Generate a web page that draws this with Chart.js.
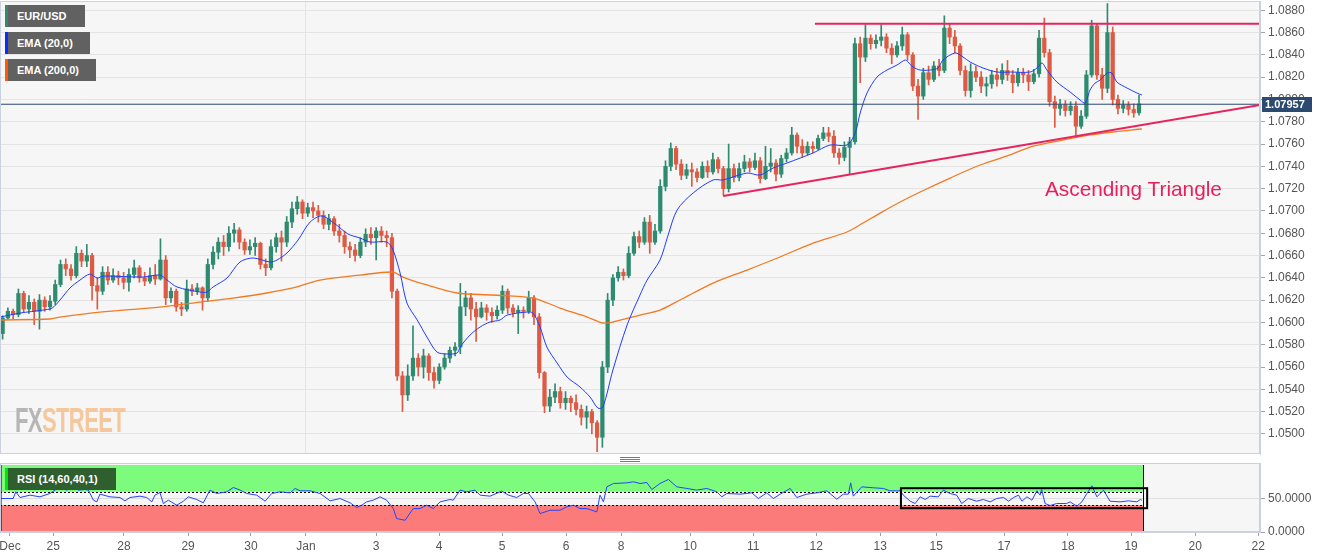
<!DOCTYPE html>
<html>
<head>
<meta charset="utf-8">
<script src="https://cdn.jsdelivr.net/npm/chart.js@4.4.1/dist/chart.umd.min.js"></script>
<style>
html,body{margin:0;padding:0;background:#fff;}
#wrap{position:relative;width:1331px;height:558px;overflow:hidden;font-family:"Liberation Sans",Arial,sans-serif;}
#main{position:absolute;left:0;top:0;}
#rsi{position:absolute;left:0;top:456px;}
.tag{position:absolute;left:5px;height:22px;background:#616161;color:#fff;font-weight:bold;font-size:11px;line-height:22px;padding-left:9px;box-sizing:border-box;border-left:3px solid;white-space:nowrap;}
.grip{position:absolute;left:620px;width:20px;height:1px;background:#7a7a7a;}
</style>
</head>
<body>
<div id="wrap">
<canvas id="main" width="1331" height="455"></canvas>
<canvas id="rsi" width="1331" height="102"></canvas>
<div class="tag" style="top:5px;width:80px;border-left-color:#2f8a6e">EUR/USD</div>
<div class="tag" style="top:32px;width:85px;border-left-color:#0a2cff">EMA (20,0)</div>
<div class="tag" style="top:59px;width:91px;border-left-color:#ff5a00">EMA (200,0)</div>
<div class="tag" style="top:468px;width:111px;background:#2f5e2f;border-left-color:#00e600">RSI (14,60,40,1)</div>
<div style="position:absolute;left:15px;top:400px;font-family:'Liberation Sans Narrow','Liberation Sans',Arial,sans-serif;font-weight:bold;font-size:35px;letter-spacing:-1px;transform:scaleX(0.63);transform-origin:0 0;white-space:nowrap;"><span style="color:#b6b6b6">FX</span><span style="color:#f5c79d">STREET</span></div>
<div style="position:absolute;left:1045px;top:179px;font-size:20.8px;line-height:20px;color:#e91e5d;white-space:nowrap;">Ascending Triangle</div>
<div class="grip" style="top:457px"></div>
<div class="grip" style="top:459px"></div>
<div class="grip" style="top:461px"></div>
</div>
<script>
// ---------- DATA ----------
const firstOpen = 1.0590;
const candleStepHours = 2;
const closes = [
1.0604,1.0610,1.0607,1.0626,1.0612,1.0618,1.0610,1.0620,1.0614,1.0619,
1.0634,1.0652,1.0648,1.0642,1.0662,1.0655,1.0660,1.0633,1.0628,1.0645,
1.0638,1.0642,1.0640,1.0636,1.0643,1.0649,1.0640,1.0637,1.0642,1.0639,
1.0656,1.0622,1.0628,1.0614,1.0612,1.0630,1.0628,1.0631,1.0622,1.0652,
1.0663,1.0672,1.0668,1.0680,1.0683,1.0672,1.0665,1.0668,1.0671,1.0652,
1.0649,1.0668,1.0676,1.0672,1.0690,1.0702,1.0708,1.0698,1.0703,1.0700,
1.0696,1.0688,1.0693,1.0682,1.0678,1.0668,1.0665,1.0660,1.0672,1.0679,
1.0676,1.0682,1.0678,1.0676,1.0628,1.0552,1.0535,1.0552,1.0568,1.0560,
1.0570,1.0555,1.0548,1.0560,1.0568,1.0575,1.0578,1.0614,1.0622,1.0612,
1.0605,1.0613,1.0609,1.0606,1.0611,1.0628,1.0613,1.0609,1.0611,1.0610,
1.0622,1.0605,1.0555,1.0525,1.0533,1.0538,1.0528,1.0532,1.0528,1.0522,
1.0515,1.0520,1.0510,1.0497,1.0560,1.0620,1.0640,1.0645,1.0642,1.0662,
1.0677,1.0672,1.0690,1.0672,1.0682,1.0722,1.0740,1.0756,1.0742,1.0732,
1.0737,1.0735,1.0730,1.0740,1.0735,1.0746,1.0738,1.0720,1.0738,1.0730,
1.0738,1.0744,1.0739,1.0745,1.0729,1.0740,1.0743,1.0733,1.0747,1.0752,
1.0768,1.0758,1.0752,1.0758,1.0756,1.0765,1.0770,1.0767,1.0752,1.0748,
1.0757,1.0762,1.0850,1.0838,1.0855,1.0850,1.0853,1.0856,1.0846,1.0840,
1.0848,1.0858,1.0840,1.0812,1.0803,1.0824,1.0818,1.0830,1.0826,1.0864,
1.0856,1.0848,1.0826,1.0808,1.0825,1.0820,1.0812,1.0814,1.0822,1.0818,
1.0826,1.0822,1.0815,1.0824,1.0822,1.0816,1.0823,1.0855,1.0842,1.0798,
1.0792,1.0795,1.0790,1.0794,1.0776,1.0785,1.0822,1.0866,1.0822,1.0810,
1.0860,1.0800,1.0792,1.0795,1.0791,1.0788,1.0796];
const highs = [
1.0606,1.0613,1.0612,1.0630,1.0628,1.0624,1.0621,1.0625,1.0623,1.0624,
1.0638,1.0656,1.0657,1.0652,1.0668,1.0665,1.0670,1.0662,1.0640,1.0650,
1.0650,1.0648,1.0646,1.0645,1.0648,1.0656,1.0651,1.0645,1.0649,1.0652,
1.0675,1.0660,1.0631,1.0630,1.0618,1.0638,1.0634,1.0635,1.0632,1.0657,
1.0668,1.0676,1.0678,1.0686,1.0689,1.0685,1.0675,1.0674,1.0676,1.0672,
1.0657,1.0674,1.0680,1.0682,1.0695,1.0708,1.0713,1.0710,1.0707,1.0708,
1.0705,1.0700,1.0697,1.0695,1.0688,1.0682,1.0672,1.0670,1.0676,1.0684,
1.0685,1.0685,1.0686,1.0682,1.0680,1.0630,1.0556,1.0562,1.0597,1.0572,
1.0576,1.0572,1.0560,1.0563,1.0572,1.0578,1.0582,1.0635,1.0628,1.0626,
1.0618,1.0618,1.0616,1.0613,1.0615,1.0633,1.0630,1.0616,1.0615,1.0614,
1.0628,1.0624,1.0608,1.0556,1.0540,1.0545,1.0542,1.0538,1.0534,1.0535,
1.0526,1.0525,1.0522,1.0512,1.0565,1.0626,1.0643,1.0650,1.0648,1.0668,
1.0681,1.0682,1.0694,1.0696,1.0688,1.0728,1.0745,1.0761,1.0758,1.0746,
1.0742,1.0743,1.0738,1.0744,1.0745,1.0752,1.0748,1.0740,1.0760,1.0742,
1.0743,1.0750,1.0747,1.0752,1.0748,1.0758,1.0756,1.0746,1.0750,1.0756,
1.0775,1.0770,1.0764,1.0762,1.0762,1.0768,1.0775,1.0775,1.0772,1.0756,
1.0762,1.0766,1.0855,1.0856,1.0867,1.0858,1.0858,1.0867,1.0859,1.0850,
1.0852,1.0865,1.0860,1.0842,1.0818,1.0828,1.0830,1.0834,1.0836,1.0875,
1.0868,1.0862,1.0850,1.0830,1.0832,1.0830,1.0825,1.0820,1.0826,1.0828,
1.0832,1.0835,1.0826,1.0828,1.0828,1.0826,1.0827,1.0862,1.0873,1.0845,
1.0803,1.0800,1.0799,1.0798,1.0798,1.0790,1.0826,1.0871,1.0868,1.0828,
1.0886,1.0865,1.0804,1.0799,1.0798,1.0796,1.0804];
const lows = [
1.0585,1.0603,1.0603,1.0605,1.0609,1.0608,1.0598,1.0594,1.0610,1.0611,
1.0616,1.0632,1.0642,1.0638,1.0640,1.0650,1.0650,1.0620,1.0612,1.0625,
1.0634,1.0636,1.0634,1.0630,1.0628,1.0640,1.0636,1.0633,1.0635,1.0634,
1.0638,1.0616,1.0618,1.0610,1.0606,1.0610,1.0624,1.0625,1.0611,1.0619,
1.0648,1.0657,1.0660,1.0664,1.0672,1.0666,1.0661,1.0661,1.0660,1.0648,
1.0642,1.0647,1.0663,1.0655,1.0668,1.0685,1.0697,1.0693,1.0695,1.0694,
1.0690,1.0684,1.0683,1.0678,1.0672,1.0662,1.0658,1.0655,1.0658,1.0668,
1.0670,1.0656,1.0672,1.0668,1.0622,1.0548,1.0520,1.0530,1.0548,1.0552,
1.0550,1.0548,1.0541,1.0545,1.0558,1.0564,1.0570,1.0572,1.0606,1.0602,
1.0583,1.0604,1.0602,1.0600,1.0603,1.0608,1.0608,1.0605,1.0590,1.0604,
1.0608,1.0598,1.0550,1.0519,1.0520,1.0528,1.0523,1.0522,1.0520,1.0517,
1.0508,1.0505,1.0500,1.0484,1.0488,1.0555,1.0615,1.0637,1.0638,1.0640,
1.0660,1.0667,1.0670,1.0662,1.0670,1.0680,1.0718,1.0736,1.0737,1.0728,
1.0729,1.0722,1.0726,1.0729,1.0730,1.0733,1.0734,1.0714,1.0717,1.0726,
1.0727,1.0735,1.0735,1.0737,1.0725,1.0728,1.0735,1.0727,1.0730,1.0744,
1.0750,1.0752,1.0748,1.0750,1.0752,1.0755,1.0763,1.0762,1.0748,1.0742,
1.0745,1.0733,1.0760,1.0815,1.0834,1.0845,1.0846,1.0848,1.0842,1.0832,
1.0838,1.0844,1.0835,1.0808,1.0782,1.0800,1.0813,1.0816,1.0821,1.0824,
1.0850,1.0842,1.0822,1.0803,1.0802,1.0816,1.0806,1.0803,1.0810,1.0812,
1.0814,1.0817,1.0806,1.0812,1.0815,1.0808,1.0814,1.0820,1.0838,1.0794,
1.0775,1.0786,1.0785,1.0786,1.0766,1.0774,1.0783,1.0820,1.0818,1.0800,
1.0806,1.0795,1.0787,1.0788,1.0786,1.0784,1.0786];
const lastPrice = 1.07957;

const ema20Hours = [0,7.6,16.3,19.8,22.8,26.6,30.4,34.2,36.9,39.2,54.4,60.8,63.5,67.3,76,78.7,81,86.3,91.2,96.2,102.7,105.3,109.1,113.3,117.9,122.4,127.4,132.3,136.9,140.7,147.1,149.4,152.1,154.7,158.6,162.3,166.1,169.9,173.8,174.9,178.7,182.5,186.3,190.1,192.8,200.3,202.6,205.3,207.9,211.8,215.6,220.5,224.3,227.3,229.2,233,238.4,243.3,246,250.9,254,257.4,263.5,271.1,274.9,284,288.9,293.9,299.2,309.1,315.5,322,325.1,327,329.6,333.4,337.2,341,344.1,345.2,347.1,349.8,353.6,356.6,358.5,363.1,366.1,368.8,373.7,379,384,391.6,394.2,396.1,398,401.8,406.8,410.6,412.5,414.4,416.3,418.2,420.9,422.7,424.6,428.4,432.2,434.1];
const ema20Values = [1.06048,1.06084,1.06111,1.06129,1.06201,1.06309,1.06380,1.06434,1.06398,1.06416,1.06407,1.06425,1.06380,1.06318,1.06273,1.06273,1.06318,1.06398,1.06542,1.06578,1.06542,1.06560,1.06623,1.06739,1.06901,1.06955,1.06883,1.06793,1.06757,1.06721,1.06721,1.06650,1.06443,1.06174,1.06022,1.05869,1.05735,1.05717,1.05726,1.05779,1.05887,1.05959,1.06004,1.06022,1.06066,1.06093,1.06084,1.05959,1.05779,1.05636,1.05510,1.05421,1.05331,1.05232,1.05241,1.05573,1.05977,1.06246,1.06380,1.06560,1.06784,1.07008,1.07161,1.07278,1.07278,1.07340,1.07322,1.07385,1.07430,1.07520,1.07591,1.07591,1.07699,1.07878,1.08058,1.08201,1.08264,1.08309,1.08354,1.08336,1.08291,1.08264,1.08264,1.08282,1.08354,1.08417,1.08381,1.08336,1.08282,1.08246,1.08246,1.08246,1.08282,1.08327,1.08264,1.08156,1.08067,1.07995,1.07968,1.08085,1.08147,1.08174,1.08237,1.08237,1.08156,1.08103,1.08058,1.08040];

const ema200Hours = [0,19,22.8,38,60.8,76,88.6,101.5,111.4,121.7,136.9,149.4,153.2,162.3,173.8,187.4,202.6,212.9,223.2,229.2,233,243.3,250.9,258.5,271.1,284,296.5,309.1,322,328.1,334.6,342.2,349.8,361.2,372.6,384,391.6,404.1,411.7,423.1,434.1];
const ema200Values = [1.06022,1.06031,1.06048,1.06093,1.06138,1.06183,1.06219,1.06264,1.06309,1.06380,1.06425,1.06452,1.06407,1.06336,1.06264,1.06246,1.06219,1.06129,1.06048,1.05995,1.06004,1.06066,1.06111,1.06201,1.06353,1.06470,1.06587,1.06712,1.06811,1.06892,1.06981,1.07080,1.07170,1.07295,1.07412,1.07502,1.07573,1.07636,1.07672,1.07708,1.07735];

const rsiHours = [0,5,6,7.6,11.4,15.2,19,20.9,22.8,25.3,
28.5,29.8,32.3,33.6,35.5,36.8,38,41.8,45.6,47.5,
49.4,53.2,55.8,57.7,58.9,60.8,62.1,64,67.2,69.7,
71.6,74.8,77.3,79.8,82.4,86.2,88.7,91.3,93.8,97.6,
100.8,103.3,106.5,110.3,112.2,114.1,117.9,121.7,125.5,129.3,
133.1,135.6,137.5,139.4,141.9,144.5,147,149.5,150.8,154,
157.1,159.7,162.2,164.7,167.3,171.1,172.3,174.9,177.4,180.6,
182.5,186.3,190.7,193.3,196.4,199,200.9,203.4,205.3,209.1,
212.9,215.4,218,220.5,223.1,226.9,228.1,229.4,230.7,233.2,
238.3,240.8,243.3,245.9,247.8,250.9,254.1,257.3,261.1,264.9,
268.7,272.5,274.4,276.3,281.4,285.8,288.3,291.5,294,296.6,
300.4,302.9,306.7,310.5,314.3,318.1,320.6,322.5,323.4,324.4,
327.6,332,335.8,338.3,342.2,343.4,346,347.9,349.8,351.7,
353.6,356.7,358.6,361.2,363.7,365.6,368.1,371.3,373.8,376.4,
378.9,381.5,383.4,385.3,387.2,388.5,390.4,392.3,394.2,395.4,
396,397.3,399.2,401.7,405.5,406.8,409.4,411.3,413.2,415.1,
417,419.5,422,425.8,429,432.2,433.5,434.1];
const rsiValues = [50,50,60,51.5,55,52.5,57.5,62.5,67.4,62.5,
67.4,62.5,63.4,62.5,47.5,45,56.5,52.5,51.5,46.5,
51.5,53.5,51.5,45,55,59,42.5,47.5,40,46,
52.5,48.5,43.5,62.5,57.5,60,66.4,62.5,57.5,55,
46,57.5,60,58.5,65,61.5,61.5,57.5,46.5,50,
43.5,36.5,40,45,47.5,52.5,47.5,35,20,17.5,
35,35,40,35,45,48.5,47.5,62.5,60,62.5,
55,53.5,61,55,51.5,57.5,57.5,45,27.5,32.5,
32.5,37.5,40,35,35,30,55,45,67.4,72.4,
73.4,74.9,72.4,73.9,63.4,72.4,78.4,67.4,65,62.5,
65,60,52.5,57.5,56.5,58.5,50,58.5,50,56.5,
65,51.5,56.5,58.5,61.5,49,56.5,56.5,73.4,53.5,
67.4,66,65,61.5,61.5,55,46,42.5,52.5,48.5,
53.5,52.5,62.5,57.5,55,42.5,50,46,48.5,45,
50,51.5,46,51.5,55,46,52.5,47.5,61.5,55,
63.4,42.5,39.5,42.5,42.5,45,38.5,45,57.5,69,
52.5,62.5,46,45,46.5,45,48.5,47.5];

const triangleTopHours = [309.8, 479];
const triangleTopValues = [1.0868, 1.0868];
const triangleBaseHours = [274.9, 479];
const triangleBaseValues = [1.07134, 1.07950];

const dayTickHours = [3.8,20.2,47.1,71.5,95.4,116.3,143,166.9,190.9,215.2,236.1,262.4,286.3,310.3,334.6,355.9,381.7,406,430,454.4,478.3];
const dayTickLabels = ['Dec','25','28','29','30','Jan','3','4','5','6','8','10','11','12','13','15','17','18','19','20','22'];
const monthStartHour = 116.3;
const priceTicks = [1.0500,1.0520,1.0540,1.0560,1.0580,1.0600,1.0620,1.0640,1.0660,1.0680,1.0700,1.0720,1.0740,1.0760,1.0780,1.0800,1.0820,1.0840,1.0860,1.0880];
const rsiTicks = [0, 50];
const rsiUpper = 60, rsiLower = 40;
const rsiBandEndHour = 434.6;
const rsiBoxHours = [342.5, 436.1];
const rsiBoxValues = [35.5, 65.4];

// ---------- STYLE ----------
const AXIS_HOURS = 479;
const GREEN = '#2f8b70', RED = '#dd5b45';
Chart.defaults.font.family = '"Liberation Sans", Arial, sans-serif';
Chart.defaults.font.size = 12;
Chart.defaults.color = '#555';

const opens = closes.map((c, i) => i === 0 ? firstOpen : closes[i - 1]);
const candleHours = closes.map((c, i) => 1 + candleStepHours * i);
const candleColors = closes.map((c, i) => c >= opens[i] ? GREEN : RED);
const zip = (xs, ys) => xs.map((x, i) => ({x: x, y: ys[i]}));

const panelPlugin = {
  id: 'panel',
  beforeDraw(chart) {
    const {ctx, chartArea: a} = chart;
    ctx.save();
    ctx.fillStyle = '#ffffff';
    ctx.fillRect(0, 0, chart.width, chart.height);
    ctx.fillStyle = '#f6f6f6';
    ctx.fillRect(a.left, a.top, a.right - a.left, a.bottom - a.top);
    ctx.restore();
  },
  afterDraw(chart) {
    const {ctx, chartArea: a} = chart;
    ctx.save();
    ctx.strokeStyle = '#c9d1e3';
    ctx.lineWidth = 1;
    ctx.strokeRect(a.left + 0.5, a.top + 0.5, a.right - a.left - 1, a.bottom - a.top - 1);
    ctx.restore();
  }
};

const priceTagPlugin = {
  id: 'priceTag',
  afterDraw(chart) {
    const {ctx, chartArea: a} = chart;
    const y = Math.round(chart.scales.y.getPixelForValue(lastPrice));
    ctx.save();
    ctx.fillStyle = '#2c4a6f';
    ctx.fillRect(a.right + 2, y - 7, 50, 15);
    ctx.fillStyle = '#ffffff';
    ctx.font = 'bold 11px "Liberation Sans", Arial, sans-serif';
    ctx.textBaseline = 'middle';
    ctx.textAlign = 'left';
    ctx.fillText(lastPrice.toFixed(5), a.right + 5, y + 1);
    ctx.restore();
  }
};

const rsiBandsPlugin = {
  id: 'rsiBands',
  beforeDatasetsDraw(chart) {
    const {ctx} = chart;
    const xs = chart.scales.x, ys = chart.scales.y;
    const x0 = xs.getPixelForValue(0), x1 = xs.getPixelForValue(rsiBandEndHour);
    const y100 = ys.getPixelForValue(100), yU = ys.getPixelForValue(rsiUpper);
    const yL = ys.getPixelForValue(rsiLower), y0 = ys.getPixelForValue(0);
    ctx.save();
    ctx.fillStyle = '#7dfb7d';
    ctx.fillRect(x0, y100, x1 - x0, yU - y100);
    ctx.fillStyle = '#fb7b7b';
    ctx.fillRect(x0, yL, x1 - x0, y0 - yL);
    ctx.strokeStyle = '#000';
    ctx.lineWidth = 1;
    ctx.setLineDash([2, 2]);
    ctx.beginPath();
    ctx.moveTo(x0, Math.round(yU) + 0.5); ctx.lineTo(x1, Math.round(yU) + 0.5);
    ctx.moveTo(x0, Math.round(yL) + 0.5); ctx.lineTo(x1, Math.round(yL) + 0.5);
    ctx.stroke();
    ctx.setLineDash([]);
    ctx.beginPath();
    ctx.moveTo(x0 + 1, y100); ctx.lineTo(x0 + 1, y0);
    ctx.moveTo(Math.round(x1) + 0.5, y100); ctx.lineTo(Math.round(x1) + 0.5, y0);
    ctx.stroke();
    ctx.restore();
  },
  afterDatasetsDraw(chart) {
    const {ctx} = chart;
    const xs = chart.scales.x, ys = chart.scales.y;
    const bx0 = xs.getPixelForValue(rsiBoxHours[0]), bx1 = xs.getPixelForValue(rsiBoxHours[1]);
    const by0 = ys.getPixelForValue(rsiBoxValues[1]), by1 = ys.getPixelForValue(rsiBoxValues[0]);
    ctx.save();
    ctx.strokeStyle = '#000';
    ctx.lineWidth = 2;
    ctx.strokeRect(bx0, by0, bx1 - bx0, by1 - by0);
    ctx.restore();
  }
};

// ---------- MAIN PRICE CHART ----------
new Chart(document.getElementById('main'), {
  type: 'bar',
  data: {
    datasets: [
      {type: 'line', data: zip(triangleTopHours, triangleTopValues), borderColor: '#e8245e', borderWidth: 2, pointRadius: 0, order: 0},
      {type: 'line', data: zip(triangleBaseHours, triangleBaseValues), borderColor: '#e8245e', borderWidth: 2, pointRadius: 0, order: 0},
      {type: 'line', data: [{x: 0, y: lastPrice}, {x: AXIS_HOURS, y: lastPrice}], borderColor: '#2b4870', borderWidth: 1, pointRadius: 0, order: 1},
      {type: 'line', data: zip(ema20Hours, ema20Values), borderColor: '#1f3dff', borderWidth: 1, pointRadius: 0, tension: 0.3, order: 2},
      {type: 'line', data: zip(ema200Hours, ema200Values), borderColor: '#f27a22', borderWidth: 1.3, pointRadius: 0, tension: 0.3, order: 2},
      {type: 'bar', data: candleHours.map((h, i) => ({x: h, y: [opens[i], closes[i]]})), backgroundColor: candleColors, borderWidth: 0, barThickness: 3.6, minBarLength: 1, grouped: false, order: 3},
      {type: 'bar', data: candleHours.map((h, i) => ({x: h, y: [lows[i], highs[i]]})), backgroundColor: candleColors, borderWidth: 0, barThickness: 1, grouped: false, order: 4}
    ]
  },
  options: {
    responsive: false,
    animation: false,
    events: [],
    layout: {padding: {top: 1, bottom: 1, left: 0, right: 0}},
    plugins: {legend: {display: false}, tooltip: {enabled: false}},
    scales: {
      x: {
        type: 'linear', min: 0, max: AXIS_HOURS, offset: false,
        ticks: {display: false},
        grid: {offset: false, drawTicks: false, color: '#e4e4e4'},
        border: {display: false},
        afterBuildTicks: s => { s.ticks = [{value: monthStartHour}]; },
        afterFit: s => { s.height = 0; s.paddingLeft = 0; s.paddingRight = 0; }
      },
      y: {
        position: 'right', min: 1.0482, max: 1.08883,
        ticks: {callback: v => Number(v).toFixed(4), color: '#555', padding: 3, font: {size: 12}},
        grid: {color: '#e4e4e4', tickColor: '#9aa3b5', tickLength: 5},
        border: {color: '#c9d1e3'},
        afterBuildTicks: s => { s.ticks = priceTicks.map(v => ({value: v})); },
        afterFit: s => { s.width = 71; s.paddingTop = 0; s.paddingBottom = 0; }
      }
    }
  },
  plugins: [panelPlugin, priceTagPlugin]
});

// ---------- RSI CHART ----------
new Chart(document.getElementById('rsi'), {
  type: 'line',
  data: {
    datasets: [
      {data: zip(rsiHours, rsiValues), borderColor: '#2444ff', borderWidth: 1, pointRadius: 0, tension: 0}
    ]
  },
  options: {
    responsive: false,
    animation: false,
    events: [],
    layout: {padding: {top: 7, bottom: 0, left: 0, right: 0}},
    plugins: {legend: {display: false}, tooltip: {enabled: false}},
    scales: {
      x: {
        type: 'linear', min: 0, max: AXIS_HOURS, offset: false,
        ticks: {autoSkip: false, maxRotation: 0, color: '#555', padding: 3, font: {size: 12},
                callback: (v, i) => dayTickLabels[i]},
        grid: {drawOnChartArea: false, drawTicks: true, tickLength: 4, tickColor: '#9aa3b5'},
        border: {color: '#c9d1e3'},
        afterBuildTicks: s => { s.ticks = dayTickHours.map(v => ({value: v})); },
        afterFit: s => { s.height = 26; s.paddingLeft = 0; s.paddingRight = 0; }
      },
      y: {
        position: 'right', min: 0, max: 103,
        ticks: {callback: v => Number(v).toFixed(4), color: '#555', padding: 3, font: {size: 12}},
        grid: {color: c => (c.tick && c.tick.value === 50) ? '#dedede' : 'rgba(0,0,0,0)', tickColor: '#9aa3b5', tickLength: 5},
        border: {color: '#c9d1e3'},
        afterBuildTicks: s => { s.ticks = rsiTicks.map(v => ({value: v})); },
        afterFit: s => { s.width = 71; s.paddingTop = 0; s.paddingBottom = 0; }
      }
    }
  },
  plugins: [panelPlugin, rsiBandsPlugin]
});
</script>
</body>
</html>
